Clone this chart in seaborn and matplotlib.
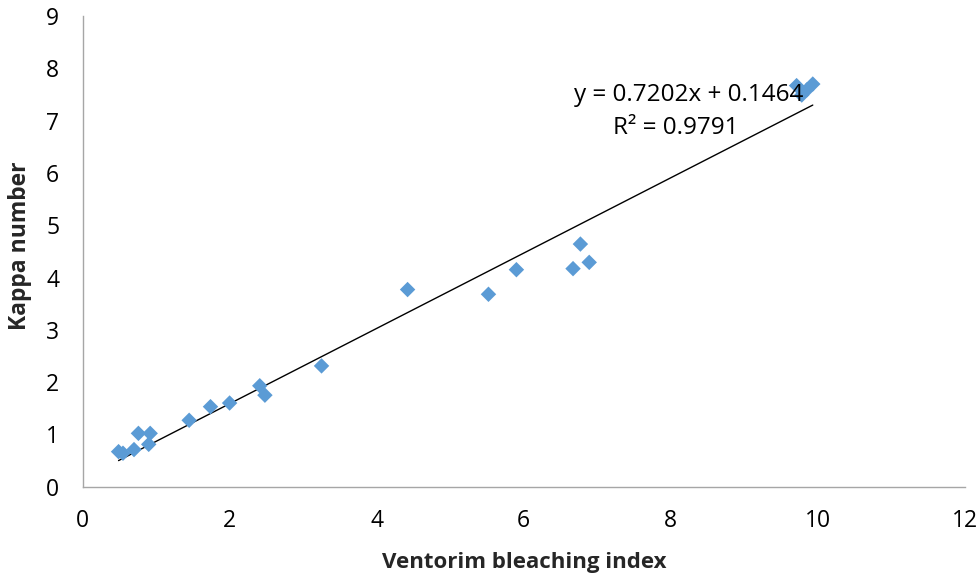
import numpy as np
import pandas as pd
import matplotlib
matplotlib.use("Agg")
import matplotlib.pyplot as plt
import seaborn as sns

bleaching_index = [0.49, 0.55, 0.70, 0.76, 0.90, 0.92, 1.45, 1.74, 2.00, 2.41, 2.48,
                   3.25, 4.42, 5.52, 5.90, 6.67, 6.77, 6.89, 9.71, 9.78, 9.85, 9.93]
kappa_number = [0.67, 0.64, 0.71, 1.02, 0.81, 1.02, 1.27, 1.53, 1.60, 1.93, 1.75,
                2.31, 3.77, 3.68, 4.15, 4.17, 4.64, 4.29, 7.67, 7.49, 7.59, 7.70]
slope = 0.7202
intercept = 0.1464
r_squared = 0.9791
x_ticks = [0, 2, 4, 6, 8, 10, 12]
y_ticks = [0, 1, 2, 3, 4, 5, 6, 7, 8, 9]

sns.set_style("white")
plt.rcParams['font.family'] = ['Open Sans', 'DejaVu Sans']

df = pd.DataFrame({"x": bleaching_index, "y": kappa_number})

fig = plt.figure(figsize=(9.79, 5.74), dpi=100)
ax = fig.add_axes([0.0843, 0.1521, 0.9014, 0.8199])

sns.scatterplot(data=df, x="x", y="y", marker="D", s=62, color="#5B9BD5",
                edgecolor="none", linewidth=0, ax=ax, zorder=3)

xfit = np.array([min(bleaching_index), max(bleaching_index)])
trend = pd.DataFrame({"x": xfit, "y": slope * xfit + intercept})
sns.lineplot(data=trend, x="x", y="y", color="black", linewidth=1.0, ax=ax, zorder=2)

ax.text(8.24, 7.49, f"y = {slope:.4f}x + {intercept:.4f}", ha="center", va="center",
        fontsize=17.5, color="black")
ax.text(8.06, 6.86, f"R² = {r_squared:.4f}", ha="center", va="center",
        fontsize=17.5, color="black")

ax.set_xlim(0, 12)
ax.set_ylim(0, 9)
ax.set_xticks(x_ticks)
ax.set_yticks(y_ticks)
ax.tick_params(axis="both", which="both", direction="out", length=5.8, width=1,
               color="#A6A6A6", labelsize=16.5, labelcolor="black")
ax.tick_params(axis="x", pad=10)
ax.tick_params(axis="y", pad=11)
for side in ["top", "right"]:
    ax.spines[side].set_visible(False)
for side in ["left", "bottom"]:
    ax.spines[side].set_color("#A6A6A6")
    ax.spines[side].set_linewidth(1)

ax.set_xlabel("Ventorim bleaching index", fontsize=16, fontweight="bold", labelpad=14)
ax.set_ylabel("Kappa number", fontsize=16.5, fontweight="bold", labelpad=10)
ax.yaxis.label.set_y(0.513)

fig.savefig("out.png", dpi=100)
